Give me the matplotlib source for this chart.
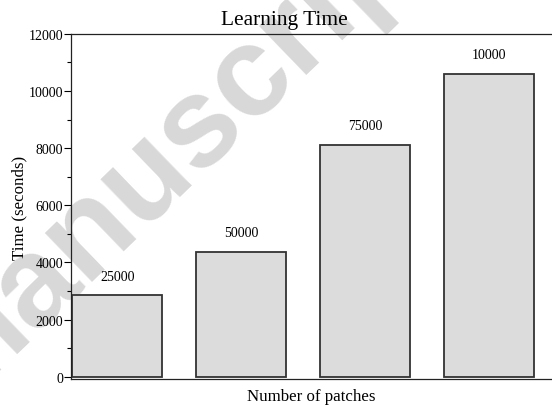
import matplotlib
matplotlib.use("Agg")
import matplotlib.pyplot as plt
from matplotlib.ticker import MultipleLocator

# data
patches = ['25000', '50000', '75000', '10000']
times = [2850, 4380, 8120, 10600]

plt.rcParams['font.family'] = ['Liberation Serif', 'DejaVu Serif']

fig = plt.figure(figsize=(5.52, 4.06), dpi=100)
ax = fig.add_axes([0.128, 0.064, 0.872, 0.850])

# watermark in the background (behind everything)
fig.text(0.32, 0.639, 'manuscript', fontsize=92, fontweight='bold',
         family='Liberation Sans', color='#d8d8d8', rotation=44,
         rotation_mode='anchor', ha='center', va='center', zorder=-1)
ax.patch.set_alpha(0)

x = list(range(len(times)))
ax.bar(x, times, width=0.726, color='#dcdcdc', edgecolor='#333333',
       linewidth=1.3, zorder=2)

for xi, t, lab in zip(x, times, patches):
    ax.annotate(lab, (xi, t), xytext=(0, 9), textcoords='offset points',
                ha='center', va='bottom', fontsize=10)

ax.set_xlim(-0.376, 3.51)
ax.set_ylim(-80, 12000)
ax.yaxis.set_major_locator(MultipleLocator(2000))
ax.yaxis.set_minor_locator(MultipleLocator(1000))
ax.set_xticks([])
ax.tick_params(axis='y', which='major', length=5, width=0.8, labelsize=10, pad=0.5)
ax.tick_params(axis='y', which='minor', length=3, width=0.8)

ax.spines['right'].set_visible(False)
for s in ['left', 'top', 'bottom']:
    ax.spines[s].set_linewidth(0.9)
    ax.spines[s].set_color('#222222')

ax.set_title('Learning Time', fontsize=15.4, pad=7, x=0.443)
ax.set_xlabel('Number of patches', fontsize=12.2, labelpad=6.5)
ax.set_ylabel('Time (seconds)', fontsize=12.2, labelpad=1)

fig.savefig('out.png', dpi=100)
